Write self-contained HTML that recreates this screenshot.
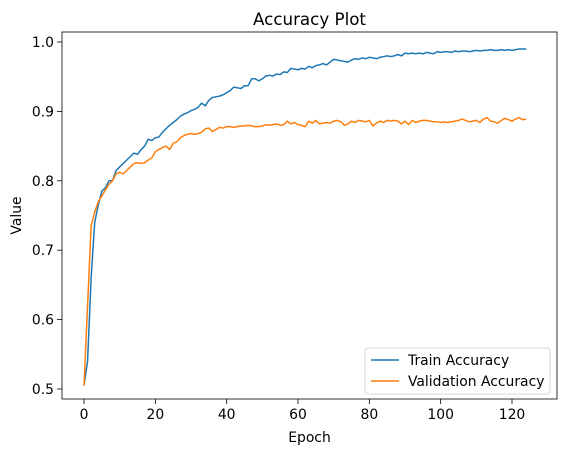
<!DOCTYPE html>
<html><head><meta charset="utf-8"><style>
body{margin:0;background:#fff;}
svg text{font-family:"DejaVu Sans","Liberation Sans",sans-serif;fill:#000;}
</style></head><body>
<svg id="chart" width="567" height="455"></svg>
<script>
const epochs = Array.from({length:125},(_, i)=>i);
const trainAcc = [0.505,0.54,0.66,0.74,0.765,0.785,0.79,0.80,0.80,0.815,0.82,0.825,0.83,0.835,0.84,0.838,0.845,0.85,0.86,0.858,0.862,0.863,0.87,0.875,0.88,0.884,0.888,0.893,0.896,0.898,0.901,0.903,0.906,0.912,0.908,0.916,0.92,0.921,0.922,0.924,0.927,0.93,0.935,0.934,0.933,0.937,0.937,0.947,0.947,0.944,0.947,0.951,0.952,0.951,0.954,0.953,0.957,0.956,0.962,0.961,0.96,0.962,0.961,0.965,0.963,0.966,0.967,0.969,0.967,0.971,0.975,0.974,0.973,0.972,0.971,0.974,0.976,0.975,0.977,0.976,0.978,0.977,0.976,0.978,0.979,0.98,0.979,0.98,0.982,0.98,0.984,0.983,0.984,0.983,0.984,0.983,0.985,0.984,0.983,0.986,0.985,0.986,0.986,0.985,0.987,0.986,0.987,0.987,0.986,0.987,0.988,0.987,0.988,0.988,0.989,0.988,0.988,0.989,0.988,0.989,0.988,0.989,0.99,0.99,0.99];
const valAcc = [0.505,0.62,0.735,0.755,0.77,0.778,0.787,0.795,0.80,0.81,0.812,0.81,0.815,0.82,0.825,0.826,0.825,0.826,0.83,0.833,0.842,0.845,0.848,0.85,0.845,0.854,0.856,0.862,0.865,0.867,0.868,0.867,0.868,0.87,0.875,0.876,0.871,0.874,0.877,0.876,0.878,0.878,0.877,0.878,0.879,0.879,0.880,0.879,0.878,0.878,0.879,0.881,0.880,0.881,0.882,0.880,0.881,0.886,0.882,0.884,0.881,0.880,0.878,0.886,0.883,0.887,0.882,0.883,0.884,0.883,0.886,0.887,0.885,0.880,0.882,0.886,0.884,0.887,0.886,0.885,0.887,0.879,0.883,0.886,0.884,0.887,0.886,0.887,0.886,0.882,0.886,0.881,0.887,0.884,0.886,0.887,0.887,0.886,0.885,0.885,0.884,0.885,0.884,0.885,0.886,0.887,0.889,0.887,0.885,0.886,0.887,0.884,0.889,0.891,0.886,0.885,0.883,0.887,0.890,0.888,0.886,0.889,0.891,0.888,0.889];
const xTicks = [0,20,40,60,80,100,120];
const yTicks = [0.5,0.6,0.7,0.8,0.9,1.0];
const yTickLabels = ["0.5","0.6","0.7","0.8","0.9","1.0"];

const NS="http://www.w3.org/2000/svg";
const svg=document.getElementById('chart');
const L=62,R=557,T=32,B=399;
const X=v=>84+(v/120)*(512-84);
const Y=v=>389-(v-0.5)/0.5*(389-42);
function mk(tag,attrs,parent){const e=document.createElementNS(NS,tag);for(const k in attrs)e.setAttribute(k,attrs[k]);(parent||svg).appendChild(e);return e;}

const title=mk('text',{x:(L+R)/2,y:25,'text-anchor':'middle','font-size':16.7});
title.textContent='Accuracy Plot';



xTicks.forEach(t=>{
  const l=mk('line',{x1:X(t),x2:X(t),y1:B,y2:B+5,stroke:'#000','stroke-width':0.8});
  
  
  const tx=mk('text',{x:X(t),y:B+20,'text-anchor':'middle','font-size':13.9});
  tx.textContent=t;
  
  
});
yTicks.forEach((t,i)=>{
  const l=mk('line',{x1:L-5,x2:L,y1:Y(t),y2:Y(t),stroke:'#000','stroke-width':0.8});
  
  
  const tx=mk('text',{x:L-8,y:Y(t)+5,'text-anchor':'end','font-size':13.9});
  tx.textContent=yTickLabels[i];
  
  
});
const xl=mk('text',{x:(L+R)/2,y:442,'text-anchor':'middle','font-size':13.9});
xl.textContent='Epoch';


const yl=mk('text',{x:0,y:0,'text-anchor':'middle','font-size':13.9,transform:`translate(21,${(T+B)/2}) rotate(-90)`});
yl.textContent='Value';



function line(data,color,name){
  const p=mk('polyline',{points:data.map((v,i)=>X(epochs[i])+','+Y(v)).join(' '),fill:'none',stroke:color,'stroke-width':1.5,'stroke-linejoin':'round'});
  
  
}
line(trainAcc,'#1f77b4','train-accuracy-line');
line(valAcc,'#ff7f0e','validation-accuracy-line');

const frame=mk('rect',{x:L,y:T,width:R-L,height:B-T,fill:'none',stroke:'#000','stroke-width':0.8});



const lg=mk('g',{});


mk('rect',{x:365,y:348,width:185,height:46,rx:3,fill:'#fff','fill-opacity':0.8,stroke:'#ccc','stroke-width':0.8},lg);
[['Train Accuracy','#1f77b4',360],['Validation Accuracy','#ff7f0e',381]].forEach(([n,c,y])=>{
  const g=mk('g',{},lg);
  
  
  mk('line',{x1:371,x2:399,y1:y,y2:y,stroke:c,'stroke-width':1.5},g);
  const t=mk('text',{x:408,y:y+5,'font-size':13.9},g);
  t.textContent=n;
});
</script>
</body></html>
